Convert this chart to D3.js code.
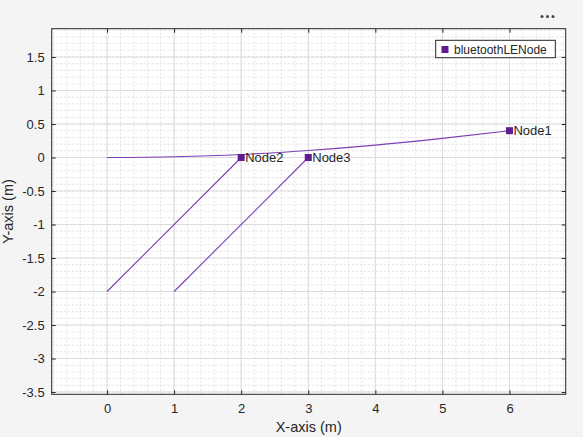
<!DOCTYPE html>
<html>
<head>
<meta charset="utf-8">
<script src="https://cdn.jsdelivr.net/npm/d3@7"></script>
<style>
  body { margin: 0; background: #f4f4f4; }
  svg { display: block; font-family: "Liberation Sans", Arial, sans-serif; }
</style>
</head>
<body>
<div id="chart"></div>
<script>
var width = 583;
var height = 437;

// node positions
var nodeNames = ["Node1", "Node2", "Node3"];
var nodeX = [6, 2, 3];
var nodeY = [0.4, 0, 0];

// trajectories
var path1X = [0, 1, 2, 3, 4, 5, 6];
var path1Y = [0, 0.012, 0.045, 0.105, 0.185, 0.285, 0.4];
var path2X = [0, 2];
var path2Y = [-2, 0];
var path3X = [1, 3];
var path3Y = [-2, 0];

var xTicks = [0, 1, 2, 3, 4, 5, 6];
var yTicks = [1.5, 1, 0.5, 0, -0.5, -1, -1.5, -2, -2.5, -3, -3.5];

var legendLabel = "bluetoothLENode";

var pLeft = 51.7, pRight = 565.7, pTop = 28.7, pBottom = 394.3;

var xScale = d3.scaleLinear().domain([-0.825, 6.838]).range([pLeft, pRight]);
var yScale = d3.scaleLinear().domain([1.922, -3.534]).range([pTop, pBottom]);

var svg = d3.select("#chart").append("svg")
    .attr("width", width)
    .attr("height", height);

// plot background
svg.append("rect")
    .attr("x", pLeft).attr("y", pTop)
    .attr("width", pRight - pLeft).attr("height", pBottom - pTop)
    .attr("fill", "white");

// minor grid
var minorX = d3.range(-0.8, 6.84, 0.2);
var minorY = d3.range(-3.5, 1.93, 0.1);
var grid = svg.append("g");
grid.selectAll(".mx").data(minorX).enter().append("line")
    .attr("x1", function(d) { return xScale(d); })
    .attr("x2", function(d) { return xScale(d); })
    .attr("y1", pTop).attr("y2", pBottom)
    .attr("stroke", "#e0e0e0").attr("stroke-dasharray", "2,2");
grid.selectAll(".my").data(minorY).enter().append("line")
    .attr("y1", function(d) { return yScale(d); })
    .attr("y2", function(d) { return yScale(d); })
    .attr("x1", pLeft).attr("x2", pRight)
    .attr("stroke", "#e0e0e0").attr("stroke-dasharray", "2,2");

// major grid
grid.selectAll(".gx").data(xTicks).enter().append("line")
    .attr("x1", function(d) { return xScale(d); })
    .attr("x2", function(d) { return xScale(d); })
    .attr("y1", pTop).attr("y2", pBottom)
    .attr("stroke", "#dcdcdc");
grid.selectAll(".gy").data(yTicks).enter().append("line")
    .attr("y1", function(d) { return yScale(d); })
    .attr("y2", function(d) { return yScale(d); })
    .attr("x1", pLeft).attr("x2", pRight)
    .attr("stroke", "#dcdcdc");

// trajectories
var line = d3.line()
    .x(function(d) { return xScale(d[0]); })
    .y(function(d) { return yScale(d[1]); });
var paths = [
  [path1X, path1Y, d3.curveMonotoneX],
  [path2X, path2Y, d3.curveLinear],
  [path3X, path3Y, d3.curveLinear]
];
paths.forEach(function(p) {
  var pts = p[0].map(function(x, i) { return [x, p[1][i]]; });
  svg.append("path")
      .attr("d", line.curve(p[2])(pts))
      .attr("fill", "none")
      .attr("stroke", "#7d3fb6")
      .attr("stroke-width", 1.1);
});

// nodes
var nodes = nodeNames.map(function(n, i) { return {name: n, x: nodeX[i], y: nodeY[i]}; });
svg.selectAll(".node").data(nodes).enter().append("rect")
    .attr("x", function(d) { return xScale(d.x) - 3.5; })
    .attr("y", function(d) { return yScale(d.y) - 3.5; })
    .attr("width", 7).attr("height", 7)
    .attr("fill", "#5e1c93");
svg.selectAll(".nlabel").data(nodes).enter().append("text")
    .attr("x", function(d) { return xScale(d.x) + 4; })
    .attr("y", function(d) { return yScale(d.y) + 4.5; })
    .attr("font-size", 13)
    .attr("fill", "#262626")
    .text(function(d) { return d.name; });

// axes box
var xAxisB = d3.axisBottom(xScale).tickValues(xTicks).tickSizeInner(-4).tickSizeOuter(0).tickPadding(9).tickFormat(function(d) { return String(d); });
var xAxisT = d3.axisTop(xScale).tickValues(xTicks).tickSizeInner(-4).tickSizeOuter(0).tickFormat("");
var yAxisL = d3.axisLeft(yScale).tickValues(yTicks).tickSizeInner(-4).tickSizeOuter(0).tickPadding(7).tickFormat(function(d) { return String(d); });
var yAxisR = d3.axisRight(yScale).tickValues(yTicks).tickSizeInner(-4).tickSizeOuter(0).tickFormat("");

function styleAxis(g) {
  g.select(".domain").remove();
  g.selectAll("line").attr("stroke", "#262626");
  g.selectAll("text").attr("fill", "#262626").attr("font-size", 13)
      .attr("font-family", "Liberation Sans, Arial, sans-serif");
}

svg.append("g").attr("transform", "translate(0," + pBottom + ")").call(xAxisB).call(styleAxis);
svg.append("g").attr("transform", "translate(0," + pTop + ")").call(xAxisT).call(styleAxis);
svg.append("g").attr("transform", "translate(" + pLeft + ",0)").call(yAxisL).call(styleAxis);
svg.append("g").attr("transform", "translate(" + pRight + ",0)").call(yAxisR).call(styleAxis);

svg.append("rect")
    .attr("x", pLeft).attr("y", pTop)
    .attr("width", pRight - pLeft).attr("height", pBottom - pTop)
    .attr("fill", "none").attr("stroke", "#262626").attr("stroke-width", 1);

// axis labels
svg.append("text")
    .attr("x", (pLeft + pRight) / 2).attr("y", 432)
    .attr("text-anchor", "middle")
    .attr("font-size", 14.5).attr("fill", "#262626")
    .text("X-axis (m)");
svg.append("text")
    .attr("transform", "translate(13," + ((pTop + pBottom) / 2) + ") rotate(-90)")
    .attr("text-anchor", "middle")
    .attr("font-size", 14.5).attr("fill", "#262626")
    .text("Y-axis (m)");

// legend
var lg = svg.append("g");
lg.append("rect")
    .attr("x", 435.7).attr("y", 40.3).attr("width", 119.6).attr("height", 17.4)
    .attr("fill", "white").attr("stroke", "#262626").attr("stroke-width", 1);
lg.append("rect")
    .attr("x", 441.5).attr("y", 46).attr("width", 7).attr("height", 7)
    .attr("fill", "#5e1c93");
lg.append("text")
    .attr("x", 454).attr("y", 53.5)
    .attr("font-size", 12).attr("fill", "#262626")
    .text(legendLabel);

// toolbar dots
svg.selectAll(".dot").data([0, 1, 2]).enter().append("circle")
    .attr("cx", function(d) { return 542 + d * 5.5; })
    .attr("cy", 16.5)
    .attr("r", 1.5)
    .attr("fill", "#444");
</script>
</body>
</html>
